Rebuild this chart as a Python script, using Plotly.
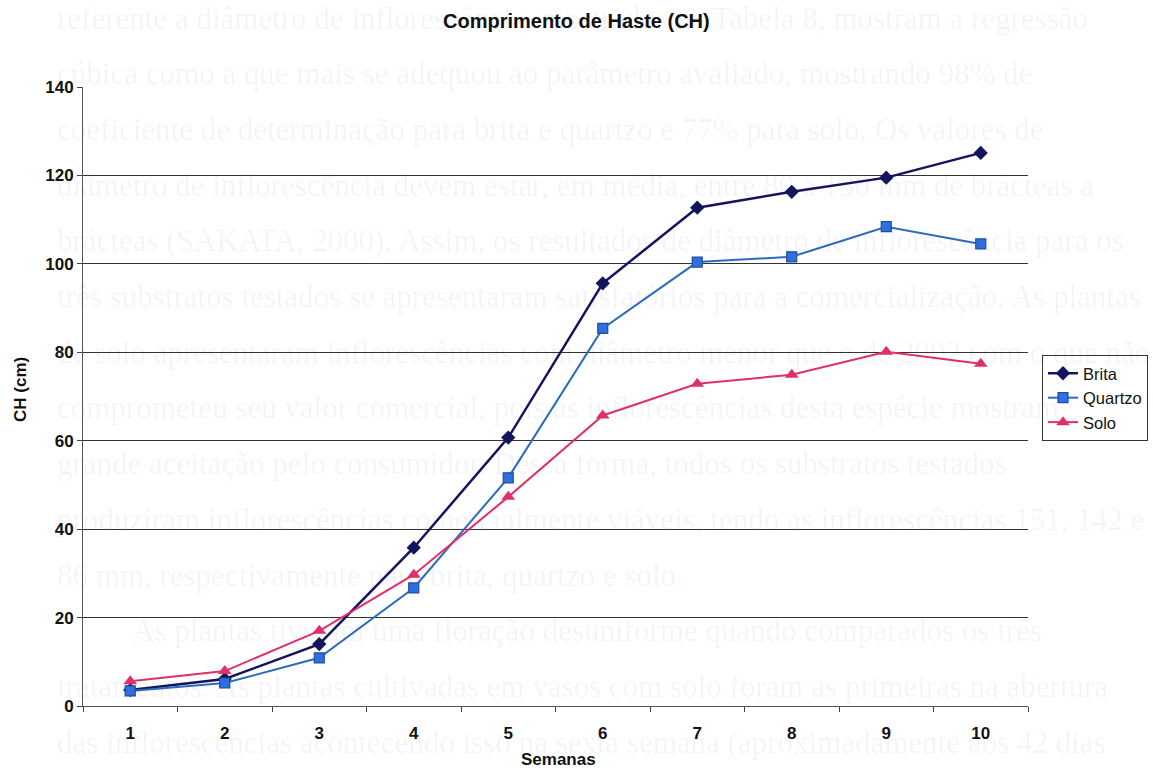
import plotly.graph_objects as go

weeks = ["1", "2", "3", "4", "5", "6", "7", "8", "9", "10"]
brita = [3.6, 6.1, 14.0, 35.8, 60.7, 95.6, 112.7, 116.3, 119.5, 125.1]
quartzo = [3.4, 5.2, 10.9, 26.7, 51.6, 85.4, 100.4, 101.6, 108.4, 104.5]
solo = [5.6, 7.9, 17.0, 29.7, 47.3, 65.7, 72.9, 74.9, 80.1, 77.4]

title_text = "Comprimento de Haste (CH)"
x_title = "Semanas"
y_title = "CH (cm)"

background_lines = [
    "referente a diâmetro de inflorescência, mostrados na Tabela 8, mostram a regressão",
    "cúbica como a que mais se adequou ao parâmetro avaliado, mostrando 98% de",
    "coeficiente de determinação para brita e quartzo e 77% para solo. Os valores de",
    "diâmetro de inflorescência devem estar, em média, entre 80 a 130 mm de brácteas a",
    "brácteas (SAKATA, 2000). Assim, os resultados de diâmetro de inflorescência para os",
    "três substratos testados se apresentaram satisfatórios para a comercialização. As plantas",
    "de solo apresentaram inflorescências com diâmetro menor que o de 2002 com o que não",
    "comprometeu seu valor comercial, pois as inflorescências desta espécie mostram",
    "grande aceitação pelo consumidor. Dessa forma, todos os substratos testados",
    "produziram inflorescências comercialmente viáveis, tendo as inflorescências 151, 142 e",
    "86 mm, respectivamente para brita, quartzo e solo.",
    "As plantas tiveram uma floração desuniforme quando comparados os três",
    "tratamentos. As plantas cultivadas em vasos com solo foram as primeiras na abertura",
    "das inflorescências acontecendo isso na sexta semana (aproximadamente aos 42 dias",
]

W, H = 1153, 768
ML, MR, MT, MB = 83, 125, 87, 62
PW, PH = W - ML - MR, H - MT - MB


def px(xp):
    return (xp - ML) / PW


def py(yp):
    return 1 - (yp - MT) / PH


fig = go.Figure()

fig.add_trace(go.Scatter(
    x=weeks, y=brita, name="Brita", mode="lines+markers",
    line=dict(color="#14145e", width=2.5),
    marker=dict(symbol="diamond", size=11, color="#14145e"),
))
fig.add_trace(go.Scatter(
    x=weeks, y=quartzo, name="Quartzo", mode="lines+markers",
    line=dict(color="#2d6cb8", width=2),
    marker=dict(symbol="square", size=10, color="#2f6fe0", line=dict(color="#1d4f9a", width=1.2)),
))
fig.add_trace(go.Scatter(
    x=weeks, y=solo, name="Solo", mode="lines+markers",
    line=dict(color="#e0306a", width=2),
    marker=dict(symbol="triangle-up", size=12, color="#e0306a"),
))

annotations = []
for i, line in enumerate(background_lines):
    ypix = 18 + i * 55.7
    xpix = 130 if i == 11 else 55
    annotations.append(dict(
        text=line, xref="paper", yref="paper",
        x=px(xpix), y=py(ypix),
        xanchor="left", yanchor="middle", showarrow=False,
        font=dict(family="Liberation Serif", size=31, color="rgba(60,70,130,0.06)"),
    ))

annotations.append(dict(
    text="<b>" + title_text + "</b>", xref="paper", yref="paper",
    x=px(576), y=py(21),
    xanchor="center", yanchor="middle", showarrow=False,
    font=dict(family="Liberation Sans", size=20, color="#111"),
))
annotations.append(dict(
    text="<b>" + x_title + "</b>", xref="paper", yref="paper",
    x=px(558), y=py(760),
    xanchor="center", yanchor="middle", showarrow=False,
    font=dict(family="Liberation Sans", size=17, color="#111"),
))
annotations.append(dict(
    text="<b>" + y_title + "</b>", xref="paper", yref="paper",
    x=px(20), y=py(390),
    xanchor="center", yanchor="middle", showarrow=False, textangle=-90,
    font=dict(family="Liberation Sans", size=17, color="#111"),
))

fig.update_layout(
    width=W, height=H,
    margin=dict(l=ML, r=MR, t=MT, b=MB, autoexpand=False),
    paper_bgcolor="white", plot_bgcolor="white",
    showlegend=True,
    legend=dict(
        x=px(1042), y=py(355),
        xanchor="left", yanchor="top",
        bordercolor="#333", borderwidth=1, bgcolor="white",
        font=dict(family="Liberation Sans", size=16.5, color="#111"),
        tracegroupgap=0, itemwidth=30,
    ),
    annotations=annotations,
    xaxis=dict(
        type="category", tickson="boundaries", ticks="outside", ticklen=5,
        tickcolor="#444", showline=True, linecolor="#555", linewidth=1,
        showgrid=False, zeroline=False, ticklabelstandoff=12,
        tickfont=dict(family="Liberation Sans", size=17, color="#111", weight="bold"),
        range=[-0.5, 9.5],
    ),
    yaxis=dict(
        range=[0, 140], dtick=20, ticks="outside", ticklen=5, tickcolor="#444",
        showline=True, linecolor="#555", linewidth=1,
        showgrid=True, gridcolor="#333", gridwidth=1.4, zeroline=False,
        tickfont=dict(family="Liberation Sans", size=17, color="#111", weight="bold"),
    ),
)

fig.write_html("out.html")
